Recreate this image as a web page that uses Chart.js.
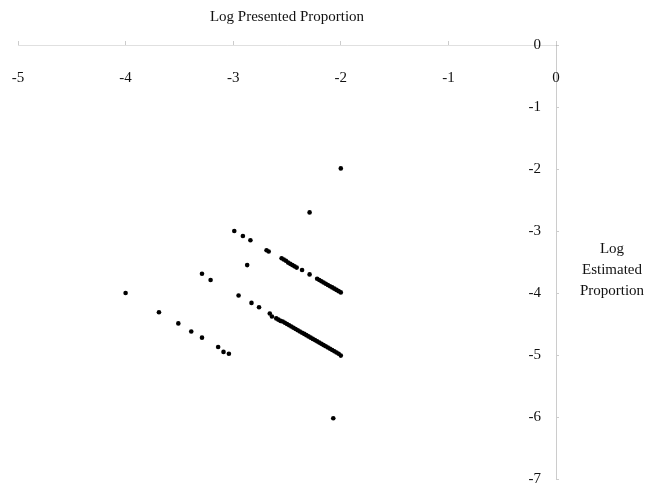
<!DOCTYPE html>
<html>
<head>
<meta charset="utf-8">
<script src="https://cdn.jsdelivr.net/npm/chart.js@4"></script>
<style>
  html, body { margin: 0; padding: 0; background: #fff; }
  #wrap { width: 668px; height: 490px; position: relative; }
</style>
</head>
<body>
<div id="wrap"><canvas id="plot"></canvas></div>
<script>
// log10 presented proportion (x) vs log10 estimated proportion (y)

const xTicks = [-5, -4, -3, -2, -1, 0];
const yTicks = [0, -1, -2, -3, -4, -5, -6, -7];

// upper band
const upperX = [-2.99, -2.91, -2.84, -2.69, -2.67, -2.55, -2.53, -2.51, -2.49, -2.47, -2.45, -2.43, -2.41,
  -2.36, -2.29, -2.22, -2.20, -2.18, -2.16, -2.14, -2.12, -2.10, -2.08, -2.06, -2.04, -2.02, -2.00];
const upperY = [-3.00, -3.08, -3.15, -3.31, -3.33, -3.44, -3.46, -3.48, -3.51, -3.53, -3.55, -3.57, -3.59,
  -3.63, -3.70, -3.77, -3.79, -3.81, -3.83, -3.85, -3.87, -3.89, -3.91, -3.93, -3.95, -3.97, -3.99];

// middle band
const middleX = [-3.29, -3.21, -2.87, -2.95, -2.83, -2.76, -2.66, -2.64,
  -2.60, -2.58, -2.56, -2.54, -2.52, -2.50, -2.48, -2.46, -2.44, -2.42, -2.40, -2.38, -2.36, -2.34, -2.32,
  -2.30, -2.28, -2.26, -2.24, -2.22, -2.20, -2.18, -2.16, -2.14, -2.12, -2.10, -2.08, -2.06, -2.04, -2.02, -2.00];
const middleY = [-3.69, -3.79, -3.55, -4.04, -4.16, -4.23, -4.33, -4.38,
  -4.41, -4.43, -4.45, -4.46, -4.48, -4.50, -4.52, -4.54, -4.56, -4.58, -4.60, -4.62, -4.64, -4.66, -4.68,
  -4.70, -4.72, -4.74, -4.76, -4.78, -4.80, -4.82, -4.84, -4.86, -4.88, -4.90, -4.92, -4.94, -4.96, -4.98, -5.01];

// lower-left band
const lowerX = [-4.00, -3.69, -3.51, -3.39, -3.29, -3.14, -3.09, -3.04];
const lowerY = [-4.00, -4.31, -4.49, -4.62, -4.72, -4.87, -4.95, -4.98];

// stray points
const strayX = [-2.00, -2.29, -2.07];
const strayY = [-1.99, -2.70, -6.02];

function pts(xs, ys) {
  return xs.map((x, i) => ({x: x, y: ys[i]}));
}

const serif = '"Liberation Serif", "DejaVu Serif", serif';
const faint = 'rgba(0,0,0,0.2)';

function band(xs, ys) {
  return {
    data: pts(xs, ys),
    backgroundColor: '#000',
    borderColor: '#000',
    pointRadius: 2.3,
    pointHoverRadius: 2.3,
    borderWidth: 0
  };
}

// "Log Estimated Proportion", written level, right of the y axis
const sideTitle = {
  id: 'sideTitle',
  afterDraw(chart) {
    const c = chart.ctx;
    const a = chart.chartArea;
    c.save();
    c.fillStyle = '#111';
    c.font = '15px ' + serif;
    c.textAlign = 'center';
    c.textBaseline = 'middle';
    const cx = a.right + 56;
    ['Log', 'Estimated', 'Proportion'].forEach((t, i) => {
      c.fillText(t, cx, 249 + i * 21);
    });
    c.restore();
  }
};

new Chart(document.getElementById('plot'), {
  type: 'scatter',
  data: {
    datasets: [band(upperX, upperY), band(middleX, middleY), band(lowerX, lowerY), band(strayX, strayY)]
  },
  options: {
    responsive: true,
    maintainAspectRatio: false,
    animation: false,
    layout: { padding: { left: 18, right: 0, top: 0, bottom: 11 } },
    plugins: { legend: { display: false }, tooltip: { enabled: false } },
    scales: {
      x: {
        type: 'linear',
        position: 'top',
        min: -5, max: 0,
        afterBuildTicks: (s) => { s.ticks = xTicks.map(v => ({value: v})); },
        afterFit: (s) => { s.height = 45; s.paddingLeft = 0; s.paddingRight = 0; },
        ticks: {
          mirror: true,
          padding: 24,
          color: '#111',
          font: { family: serif, size: 15 },
          maxRotation: 0,
          autoSkip: false
        },
        grid: { drawOnChartArea: false, drawTicks: true, tickLength: 4, color: faint },
        border: { display: true, color: 'rgba(0,0,0,0.12)', dash: [2, 5] },
        title: {
          display: true,
          text: 'Log Presented Proportion',
          color: '#111',
          font: { family: serif, size: 15 },
          padding: { top: 8, bottom: 0 }
        }
      },
      y: {
        type: 'linear',
        position: 'right',
        min: -7, max: 0,
        afterBuildTicks: (s) => { s.ticks = yTicks.map(v => ({value: v})); },
        afterFit: (s) => { s.width = 112; s.paddingTop = 0; s.paddingBottom = 0; },
        ticks: {
          mirror: true,
          padding: -15,
          color: '#111',
          font: { family: serif, size: 15 },
          autoSkip: false
        },
        grid: { drawOnChartArea: false, drawTicks: true, tickLength: 3, color: faint },
        border: { display: true, color: 'rgba(0,0,0,0.2)', dash: [2, 4] }
      }
    }
  },
  plugins: [sideTitle]
});
</script>
</body>
</html>
